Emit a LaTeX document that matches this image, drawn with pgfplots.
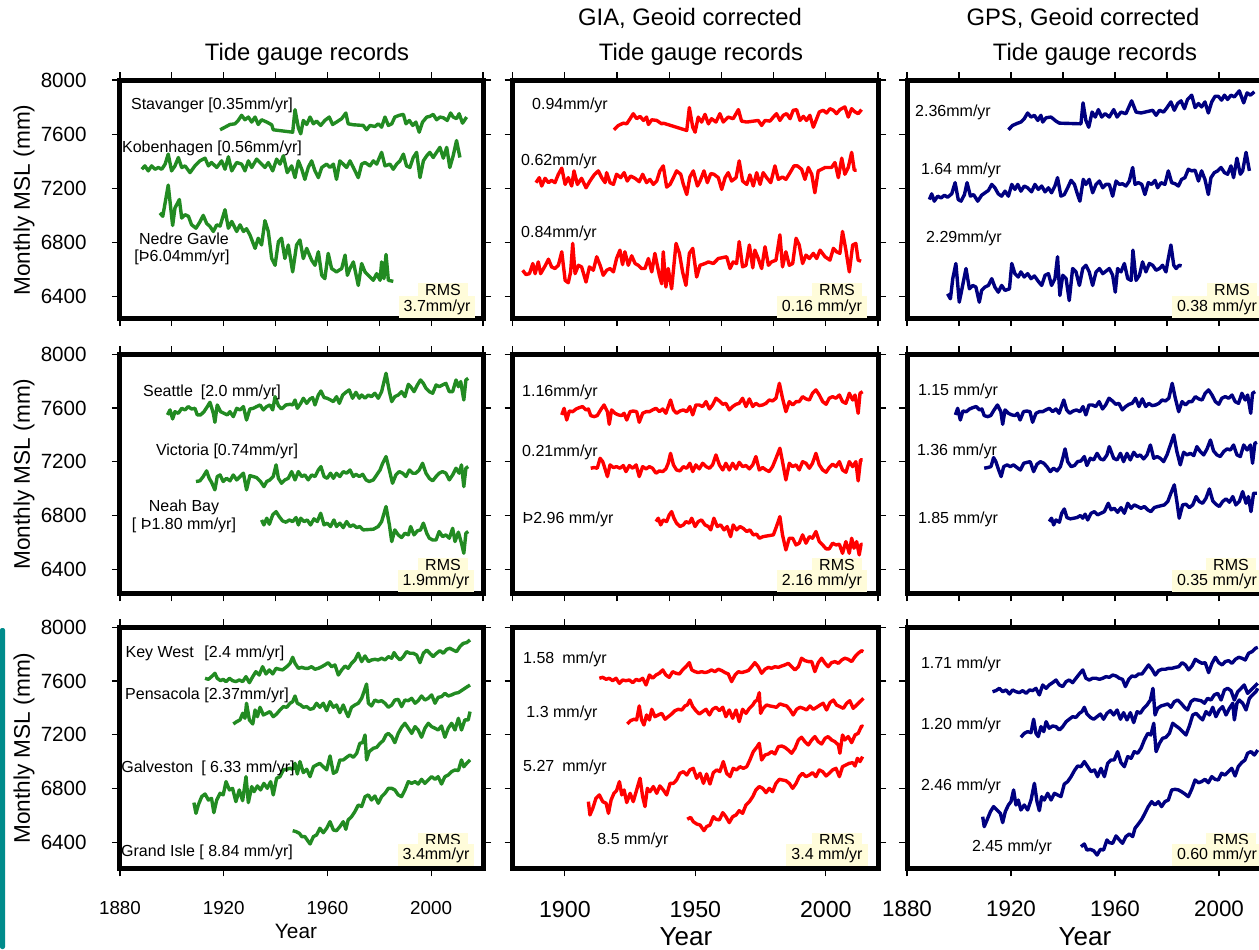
\documentclass[border=0pt]{standalone}
\usepackage{fontspec}
\setmainfont{Liberation Sans}
\usepackage{pgfplots}
\pgfplotsset{compat=1.18}
\definecolor{tgreen}{RGB}{34,139,34}
\definecolor{tred}{RGB}{255,0,0}
\definecolor{tnavy}{RGB}{0,0,128}
\definecolor{cream}{RGB}{255,252,218}
\definecolor{tealbar}{RGB}{0,139,139}
\pgfplotsset{
  panel/.style={
    scale only axis, anchor=north west,
    xmin=1880, xmax=2020, ymax=8000,
    axis line style={line width=0.5pt},
    tick style={black, line width=0.6pt},
    tick align=outside, major tick length=4pt,
    ytick={6400,6800,7200,7600,8000},
    scaled y ticks=false, scaled x ticks=false,
    /pgf/number format/1000 sep={},
    /pgf/number format/assume math mode=true,
    every axis plot/.append style={line width=1.7pt, line join=round},
    after end axis/.code={\draw[line width=2.5pt] (rel axis cs:0,0) rectangle (rel axis cs:1,1);},
  },
  c1/.style={width=181.5pt, yticklabel style={anchor=east, inner sep=0pt, xshift=-12.5pt, font=\fontsize{10.3}{12}\selectfont}},
  c2/.style={width=182.65pt, yticklabels={}},
  c3/.style={width=182pt, yticklabels={}},
  r1/.style={height=119pt, ymin=6240, xtick={1880,1900,...,2020}, xticklabels={}},
  r2/.style={height=119.5pt, ymin=6221, xtick={1880,1900,...,2020}, xticklabels={}},
  r3/.style={height=120.5pt, ymin=6207, xticklabel style={anchor=north, inner sep=0pt, yshift=-12.25pt}},
}
\begin{document}
\begin{tikzpicture}
\useasboundingbox (0pt,0pt) rectangle (629.5pt,-474.5pt);
% ---------------- Row 1 ----------------
\begin{axis}[panel, c1, r1, at={(60pt,-40pt)}]
\addplot[tgreen] coordinates {(1918.6,7632)(1920.5,7651)(1922.4,7671)(1924.3,7676)(1925.6,7701)(1926.9,7739)(1928.2,7706)(1929.5,7726)(1930.8,7689)(1932.1,7726)(1933.3,7671)(1934.6,7706)(1936.6,7689)(1938.5,7669)(1939.1,7632)(1946.6,7614)(1947.5,7781)(1948.8,7646)(1949.7,7602)(1950.7,7701)(1952.0,7671)(1953.3,7726)(1954.6,7676)(1955.8,7696)(1957.4,7664)(1959.0,7701)(1960.7,7726)(1962.0,7671)(1963.5,7689)(1965.5,7714)(1967.1,7756)(1968.0,7676)(1970.0,7669)(1973.8,7664)(1975.1,7632)(1976.4,7664)(1978.3,7656)(1979.6,7676)(1980.9,7651)(1982.2,7726)(1983.5,7664)(1984.8,7676)(1986.0,7726)(1987.7,7739)(1989.3,7746)(1990.3,7676)(1991.6,7701)(1992.9,7664)(1994.1,7689)(1995.4,7614)(1996.7,7689)(1998.3,7726)(1999.5,7731)(2000.8,7746)(2002.1,7706)(2003.4,7726)(2004.7,7721)(2006.2,7701)(2007.5,7756)(2008.5,7726)(2009.8,7714)(2010.8,7751)(2012.1,7681)(2013.7,7726)};
\addplot[tgreen] coordinates {(1888.4,7340)(1889.6,7365)(1890.9,7328)(1892.2,7365)(1893.5,7340)(1894.8,7353)(1896.1,7340)(1897.4,7378)(1898.6,7452)(1899.9,7328)(1901.2,7365)(1902.5,7427)(1903.8,7353)(1905.1,7365)(1907.0,7315)(1908.9,7365)(1910.8,7402)(1912.8,7422)(1914.1,7365)(1915.3,7390)(1917.3,7353)(1919.2,7402)(1920.5,7340)(1921.8,7432)(1923.1,7328)(1925.0,7390)(1926.9,7378)(1928.2,7328)(1929.5,7402)(1930.8,7353)(1932.7,7415)(1934.6,7378)(1935.9,7353)(1937.2,7390)(1938.9,7328)(1940.4,7415)(1941.7,7378)(1943.0,7440)(1944.5,7315)(1946.2,7365)(1947.5,7278)(1948.8,7402)(1950.1,7340)(1951.3,7265)(1952.6,7353)(1953.9,7402)(1955.2,7328)(1956.5,7278)(1957.8,7353)(1959.7,7378)(1961.0,7353)(1962.3,7378)(1963.5,7265)(1964.8,7402)(1966.1,7378)(1967.4,7353)(1968.7,7402)(1970.0,7353)(1971.9,7278)(1973.2,7378)(1974.5,7390)(1976.4,7365)(1977.7,7402)(1979.0,7378)(1980.9,7465)(1982.2,7365)(1984.1,7378)(1985.4,7340)(1986.7,7378)(1988.0,7402)(1989.3,7452)(1990.5,7365)(1991.8,7353)(1993.1,7427)(1994.4,7465)(1995.7,7278)(1997.0,7402)(1998.3,7440)(1999.5,7465)(2000.8,7427)(2002.1,7465)(2003.4,7502)(2004.7,7422)(2006.0,7502)(2007.2,7353)(2008.5,7440)(2009.8,7552)(2011.1,7427)};
\addplot[tgreen] coordinates {(1895.4,7017)(1896.5,6992)(1898.6,7223)(1900.3,6924)(1901.2,7054)(1902.9,7116)(1903.8,6979)(1905.1,7004)(1906.4,6992)(1907.6,6930)(1909.3,6904)(1910.8,6950)(1912.1,6999)(1913.4,6940)(1914.7,6917)(1916.0,6880)(1917.3,6929)(1918.6,6920)(1920.5,7041)(1921.8,6904)(1923.1,6954)(1925.0,6880)(1926.3,6929)(1927.6,6880)(1928.8,6900)(1930.1,6855)(1932.1,6755)(1933.3,6830)(1934.6,6780)(1935.9,6960)(1937.2,6880)(1938.5,6680)(1939.8,6630)(1941.1,6805)(1942.3,6830)(1943.6,6680)(1944.9,6780)(1946.6,6581)(1948.1,6780)(1949.4,6817)(1950.7,6680)(1952.0,6755)(1953.9,6668)(1955.2,6630)(1956.5,6730)(1957.8,6556)(1959.0,6531)(1960.3,6718)(1961.6,6606)(1963.5,6581)(1965.5,6606)(1966.8,6705)(1967.7,6556)(1968.7,6606)(1970.0,6655)(1971.9,6481)(1973.2,6643)(1974.5,6581)(1976.4,6543)(1977.7,6519)(1979.0,6568)(1980.3,6519)(1980.9,6655)(1981.8,6531)(1982.6,6710)(1983.5,6519)(1985.4,6511)};
\end{axis}
\begin{axis}[panel, c2, r1, at={(256.35pt,-40pt)}]
\addplot[tred] coordinates {(1918.8,7632)(1920.5,7664)(1922.4,7681)(1923.7,7676)(1925.0,7714)(1926.2,7751)(1927.5,7714)(1928.8,7731)(1930.1,7701)(1931.3,7726)(1932.0,7671)(1933.3,7706)(1935.2,7701)(1937.1,7676)(1937.7,7681)(1946.7,7627)(1947.7,7796)(1949.0,7651)(1949.9,7614)(1951.1,7726)(1952.4,7689)(1953.7,7746)(1955.0,7676)(1956.2,7714)(1957.9,7689)(1959.4,7751)(1960.7,7689)(1962.6,7726)(1964.5,7714)(1966.5,7781)(1967.7,7696)(1969.7,7689)(1974.1,7701)(1975.4,7664)(1976.7,7701)(1978.6,7696)(1979.9,7726)(1981.1,7751)(1982.4,7701)(1983.7,7739)(1985.0,7751)(1986.3,7714)(1987.5,7776)(1988.8,7781)(1990.1,7701)(1991.4,7731)(1992.6,7701)(1993.9,7739)(1995.2,7651)(1996.5,7714)(1997.5,7764)(1999.0,7776)(2000.3,7756)(2001.6,7788)(2002.9,7776)(2004.1,7751)(2005.4,7781)(2007.3,7801)(2008.6,7726)(2009.9,7788)(2011.2,7764)(2012.4,7751)(2013.7,7781)};
\addplot[tred] coordinates {(1888.9,7241)(1890.2,7278)(1891.1,7216)(1892.4,7273)(1893.7,7241)(1894.9,7258)(1896.2,7241)(1897.5,7303)(1898.8,7348)(1900.1,7228)(1901.3,7278)(1902.6,7216)(1903.5,7328)(1904.8,7228)(1906.4,7273)(1908.1,7203)(1909.6,7253)(1911.2,7298)(1912.8,7328)(1914.1,7278)(1915.4,7241)(1916.0,7315)(1917.3,7241)(1918.6,7228)(1919.8,7303)(1921.4,7278)(1922.7,7315)(1923.9,7253)(1925.2,7290)(1926.9,7273)(1928.5,7248)(1929.8,7303)(1931.3,7241)(1932.6,7265)(1933.9,7228)(1935.2,7253)(1936.4,7328)(1937.7,7365)(1939.0,7208)(1940.3,7228)(1941.6,7278)(1942.8,7328)(1944.4,7303)(1945.4,7228)(1946.7,7153)(1947.9,7283)(1949.2,7328)(1950.8,7216)(1951.8,7253)(1953.3,7328)(1954.6,7241)(1955.9,7308)(1957.1,7303)(1958.8,7278)(1960.1,7191)(1961.4,7278)(1962.6,7315)(1963.9,7253)(1965.6,7278)(1966.8,7402)(1968.1,7253)(1969.7,7228)(1970.9,7298)(1972.2,7216)(1973.5,7315)(1974.8,7228)(1976.0,7315)(1977.3,7278)(1978.9,7241)(1980.5,7365)(1981.8,7265)(1983.4,7283)(1984.7,7265)(1986.3,7315)(1987.8,7365)(1989.1,7365)(1990.7,7340)(1992.0,7265)(1993.3,7353)(1994.6,7303)(1995.8,7166)(1997.1,7328)(1998.4,7340)(1999.7,7353)(2000.9,7353)(2002.2,7353)(2003.5,7390)(2004.8,7278)(2006.1,7422)(2007.3,7303)(2008.6,7353)(2009.9,7465)(2010.9,7333)(2011.8,7333)};
\addplot[tred] coordinates {(1883.8,6593)(1885.1,6561)(1886.4,6568)(1887.7,6643)(1888.6,6568)(1889.8,6655)(1890.7,6568)(1892.4,6625)(1893.7,6675)(1894.9,6618)(1896.2,6606)(1897.5,6630)(1898.8,6730)(1900.1,6518)(1901.3,6501)(1902.2,6581)(1903.0,6792)(1903.9,6568)(1905.2,6630)(1906.4,6618)(1908.1,6506)(1909.4,6618)(1910.9,6593)(1912.2,6693)(1913.5,6630)(1914.7,6556)(1916.0,6593)(1917.3,6606)(1918.6,6581)(1919.8,6680)(1921.1,6742)(1922.1,6635)(1923.0,6730)(1924.3,6630)(1925.6,6700)(1926.9,6643)(1928.1,6630)(1929.4,6606)(1930.7,6606)(1932.0,6680)(1933.3,6581)(1934.5,6718)(1936.2,6556)(1937.1,6493)(1937.7,6730)(1938.7,6469)(1939.6,6606)(1940.9,6456)(1942.6,6792)(1943.9,6718)(1945.1,6581)(1946.4,6481)(1947.7,6718)(1949.0,6755)(1950.5,6543)(1951.8,6630)(1953.7,6643)(1955.0,6655)(1956.9,6643)(1958.8,6680)(1962.0,6693)(1963.3,6606)(1964.5,6655)(1965.8,6643)(1966.8,6805)(1968.1,6618)(1969.4,6630)(1970.7,6780)(1972.0,6611)(1972.8,6742)(1974.1,6680)(1975.4,6606)(1976.7,6767)(1978.0,6630)(1979.2,6655)(1980.9,6668)(1982.4,6855)(1983.4,6618)(1984.7,6730)(1986.0,6630)(1987.3,6643)(1988.6,6830)(1989.8,6780)(1991.1,6643)(1992.4,6705)(1993.7,6680)(1995.2,6718)(1996.5,6680)(1997.8,6742)(1999.7,6693)(2001.6,6668)(2002.9,6755)(2004.1,6730)(2005.4,6718)(2006.4,6880)(2007.7,6742)(2009.0,6581)(2010.3,6780)(2011.5,6792)(2012.4,6668)(2013.5,6660)};
\end{axis}
\begin{axis}[panel, c3, r1, at={(453.5pt,-40pt)}]
\addplot[tnavy] coordinates {(1919.0,7632)(1920.6,7664)(1922.6,7681)(1923.8,7689)(1925.1,7714)(1926.4,7756)(1927.7,7726)(1929.0,7739)(1930.3,7701)(1931.5,7739)(1932.2,7689)(1933.5,7721)(1935.4,7726)(1937.3,7696)(1938.6,7681)(1946.9,7676)(1947.7,7831)(1948.8,7701)(1949.9,7651)(1951.2,7763)(1952.4,7726)(1953.6,7781)(1954.9,7726)(1956.2,7751)(1957.8,7726)(1959.5,7781)(1960.8,7726)(1962.3,7763)(1964.2,7751)(1966.4,7846)(1968.1,7763)(1970.0,7756)(1974.5,7776)(1975.8,7739)(1977.1,7776)(1978.7,7763)(1980.0,7796)(1981.5,7838)(1982.8,7776)(1984.1,7826)(1985.4,7846)(1986.7,7788)(1987.9,7856)(1989.5,7888)(1990.8,7796)(1992.1,7826)(1993.3,7801)(1994.6,7838)(1995.9,7756)(1997.2,7838)(1998.5,7880)(1999.7,7880)(2001.0,7851)(2002.1,7888)(2003.3,7856)(2004.6,7888)(2005.9,7875)(2007.8,7920)(2009.5,7831)(2010.8,7905)(2012.1,7888)(2013.6,7913)};
\addplot[tnavy] coordinates {(1888.6,7116)(1889.5,7158)(1890.5,7104)(1891.8,7141)(1893.1,7128)(1894.4,7148)(1895.6,7133)(1897.2,7158)(1898.5,7241)(1899.7,7116)(1900.8,7104)(1902.1,7153)(1903.1,7241)(1904.4,7141)(1905.6,7153)(1907.2,7104)(1908.7,7148)(1910.0,7166)(1911.3,7183)(1912.6,7228)(1913.8,7203)(1915.1,7158)(1916.4,7141)(1917.7,7178)(1919.0,7141)(1920.3,7228)(1921.5,7191)(1922.6,7228)(1923.8,7178)(1925.1,7216)(1926.4,7203)(1927.9,7173)(1929.2,7228)(1930.5,7191)(1931.8,7216)(1933.1,7173)(1934.4,7203)(1935.6,7166)(1936.9,7216)(1937.9,7278)(1939.2,7141)(1940.5,7153)(1941.8,7203)(1943.1,7258)(1944.4,7228)(1945.6,7153)(1946.5,7104)(1947.8,7265)(1948.8,7228)(1950.1,7265)(1951.4,7166)(1952.7,7228)(1954.0,7253)(1955.3,7203)(1956.5,7228)(1957.8,7228)(1959.1,7141)(1960.4,7253)(1961.7,7228)(1962.9,7233)(1964.2,7216)(1965.5,7253)(1966.8,7353)(1967.7,7228)(1969.0,7241)(1970.3,7228)(1971.5,7153)(1972.8,7241)(1974.1,7228)(1975.4,7258)(1976.4,7203)(1977.7,7241)(1979.2,7228)(1980.5,7328)(1981.8,7241)(1983.1,7233)(1984.4,7216)(1985.6,7265)(1986.9,7278)(1988.2,7340)(1989.5,7328)(1990.8,7333)(1992.1,7253)(1993.3,7328)(1994.6,7265)(1995.9,7153)(1996.9,7278)(1998.2,7315)(1999.5,7328)(2000.8,7353)(2002.1,7315)(2003.3,7303)(2004.6,7365)(2005.6,7278)(2006.9,7422)(2008.2,7303)(2009.1,7328)(2010.4,7465)(2011.7,7328)};
\addplot[tnavy] coordinates {(1895.6,6419)(1896.7,6382)(1897.6,6531)(1898.8,6643)(1900.1,6357)(1901.4,6481)(1902.7,6606)(1904.0,6456)(1905.3,6481)(1906.5,6469)(1907.8,6357)(1908.7,6444)(1910.0,6469)(1911.3,6481)(1912.6,6531)(1913.8,6469)(1915.1,6431)(1916.4,6481)(1917.7,6444)(1919.4,6456)(1920.3,6643)(1921.5,6568)(1922.8,6543)(1923.8,6581)(1925.1,6543)(1926.4,6568)(1927.7,6531)(1929.0,6551)(1930.5,6511)(1931.8,6481)(1933.1,6556)(1934.4,6568)(1935.6,6481)(1936.9,6531)(1937.9,6693)(1938.8,6406)(1939.9,6556)(1941.2,6531)(1942.4,6369)(1943.7,6606)(1945.0,6581)(1946.3,6481)(1947.6,6606)(1948.8,6630)(1950.1,6581)(1951.4,6481)(1952.7,6581)(1954.0,6606)(1955.3,6568)(1956.5,6586)(1957.8,6606)(1959.1,6556)(1960.1,6431)(1961.0,6606)(1962.3,6581)(1963.6,6643)(1964.9,6531)(1966.2,6518)(1966.9,6742)(1968.1,6518)(1969.4,6556)(1970.6,6655)(1971.9,6581)(1973.2,6643)(1974.5,6630)(1975.8,6593)(1977.1,6606)(1978.3,6630)(1979.6,6581)(1980.5,6680)(1981.5,6780)(1982.6,6630)(1983.5,6606)(1984.7,6630)(1985.6,6625)};
\end{axis}
% ---------------- Row 2 ----------------
\begin{axis}[panel, c1, r2, at={(60pt,-177.15pt)}]
\addplot[tgreen] coordinates {(1898.3,7549)(1899.3,7586)(1900.3,7519)(1901.2,7573)(1902.5,7561)(1903.8,7598)(1905.1,7586)(1906.3,7611)(1907.6,7593)(1908.9,7598)(1909.8,7549)(1911.1,7549)(1912.4,7573)(1913.7,7611)(1914.7,7643)(1916.0,7561)(1916.6,7494)(1917.5,7623)(1918.8,7573)(1920.1,7561)(1921.4,7549)(1922.4,7573)(1923.7,7536)(1925.0,7598)(1926.3,7586)(1927.6,7611)(1928.8,7511)(1930.1,7593)(1931.4,7598)(1932.7,7611)(1934.0,7623)(1935.3,7586)(1936.6,7611)(1937.8,7623)(1938.9,7586)(1939.8,7685)(1941.1,7618)(1942.3,7593)(1944.0,7623)(1945.6,7628)(1946.6,7623)(1947.5,7660)(1948.4,7598)(1949.7,7635)(1950.7,7673)(1952.0,7635)(1953.3,7668)(1954.3,7678)(1955.2,7623)(1956.5,7697)(1957.5,7727)(1958.7,7678)(1959.9,7673)(1961.2,7660)(1962.3,7648)(1963.5,7685)(1964.6,7635)(1965.9,7697)(1967.1,7717)(1968.4,7735)(1969.7,7673)(1971.0,7717)(1972.3,7673)(1973.2,7697)(1974.5,7673)(1975.8,7697)(1977.0,7685)(1978.3,7710)(1979.6,7673)(1980.9,7722)(1982.6,7859)(1983.9,7722)(1984.8,7648)(1986.0,7685)(1987.3,7697)(1988.6,7722)(1989.9,7685)(1991.2,7777)(1992.1,7759)(1993.4,7722)(1994.7,7772)(1995.9,7809)(1997.0,7784)(1998.0,7747)(1999.3,7722)(2000.6,7710)(2001.9,7772)(2003.1,7759)(2004.4,7772)(2005.7,7784)(2007.0,7722)(2008.3,7722)(2009.6,7809)(2010.5,7759)(2011.4,7797)(2012.6,7660)(2013.4,7809)(2014.3,7821)};
\addplot[tgreen] coordinates {(1909.3,7053)(1910.8,7058)(1912.1,7090)(1913.4,7132)(1914.4,7077)(1915.3,7048)(1916.6,6991)(1917.5,7090)(1918.6,7102)(1919.8,7053)(1921.1,7077)(1922.4,7058)(1923.7,7102)(1925.0,7065)(1926.3,7090)(1927.6,7115)(1928.8,6991)(1930.1,7097)(1931.4,7090)(1932.7,7082)(1934.2,7053)(1935.5,7015)(1936.6,7053)(1937.8,7065)(1939.1,7090)(1940.2,7177)(1941.1,7077)(1942.3,7040)(1943.6,7065)(1944.9,7077)(1946.2,7127)(1947.5,7065)(1948.8,7127)(1950.1,7090)(1951.3,7102)(1952.6,7065)(1953.9,7102)(1955.2,7090)(1956.5,7139)(1957.5,7164)(1958.7,7090)(1959.9,7077)(1961.2,7115)(1962.3,7077)(1963.5,7115)(1964.8,7090)(1966.1,7127)(1967.4,7115)(1968.7,7139)(1970.0,7090)(1971.0,7107)(1972.3,7090)(1973.6,7107)(1974.9,7065)(1976.1,7053)(1977.7,7065)(1979.0,7102)(1980.3,7139)(1981.3,7189)(1982.6,7239)(1983.9,7139)(1985.1,7040)(1986.4,7102)(1987.7,7127)(1989.0,7115)(1990.3,7090)(1991.6,7139)(1992.9,7115)(1994.1,7115)(1995.4,7139)(1996.7,7189)(1998.0,7115)(1999.3,7077)(2000.6,7058)(2001.9,7090)(2003.1,7115)(2004.4,7127)(2005.7,7115)(2007.0,7065)(2008.3,7102)(2009.6,7152)(2010.8,7115)(2011.7,7177)(2012.6,7015)(2013.4,7152)(2014.3,7164)};
\addplot[tgreen] coordinates {(1934.6,6767)(1935.5,6730)(1936.6,6780)(1937.6,6735)(1938.9,6805)(1940.2,6829)(1941.4,6792)(1942.7,6760)(1944.0,6750)(1945.3,6767)(1946.6,6755)(1947.9,6785)(1948.8,6730)(1949.7,6780)(1951.0,6755)(1952.2,6767)(1953.5,6730)(1954.8,6775)(1956.1,6755)(1957.4,6817)(1958.7,6730)(1959.9,6743)(1961.2,6718)(1962.5,6767)(1963.5,6718)(1964.8,6743)(1966.1,6710)(1967.4,6755)(1968.7,6718)(1970.0,6730)(1971.3,6710)(1972.5,6718)(1973.8,6693)(1977.7,6698)(1979.6,6718)(1980.9,6755)(1982.6,6867)(1983.9,6730)(1984.8,6606)(1986.0,6693)(1987.3,6656)(1988.6,6636)(1989.9,6668)(1991.2,6656)(1992.1,6718)(1993.4,6656)(1994.7,6686)(1995.9,6693)(1997.0,6743)(1998.3,6668)(1999.3,6631)(2000.6,6618)(2001.9,6618)(2003.1,6681)(2004.4,6643)(2005.7,6656)(2007.0,6631)(2008.3,6705)(2009.2,6606)(2010.5,6676)(2011.7,6594)(2012.6,6519)(2013.4,6668)(2014.3,6681)};
\end{axis}
\begin{axis}[panel, c2, r2, at={(256.35pt,-177.15pt)}]
\addplot[tred] coordinates {(1898.8,7549)(1899.7,7598)(1900.7,7511)(1901.7,7578)(1903.0,7573)(1904.3,7593)(1905.5,7603)(1906.8,7611)(1908.1,7586)(1909.0,7593)(1909.9,7544)(1911.2,7536)(1912.4,7544)(1913.7,7586)(1915.0,7623)(1916.3,7573)(1917.0,7479)(1917.9,7586)(1919.2,7561)(1920.5,7549)(1921.8,7544)(1922.7,7561)(1923.7,7511)(1925.0,7573)(1926.2,7578)(1927.5,7573)(1928.5,7494)(1929.8,7561)(1931.1,7573)(1932.4,7573)(1933.6,7586)(1934.9,7598)(1936.2,7573)(1937.5,7593)(1938.7,7561)(1939.6,7611)(1940.5,7660)(1941.6,7586)(1942.8,7561)(1944.1,7578)(1945.4,7586)(1946.7,7573)(1947.9,7611)(1949.0,7549)(1950.2,7623)(1951.5,7623)(1952.8,7611)(1954.1,7648)(1955.4,7593)(1956.6,7623)(1957.9,7673)(1959.2,7653)(1960.5,7628)(1961.7,7635)(1963.0,7586)(1964.3,7611)(1965.6,7628)(1966.8,7635)(1968.1,7673)(1969.4,7611)(1970.7,7668)(1972.0,7611)(1973.2,7635)(1974.5,7618)(1975.8,7623)(1977.1,7635)(1978.3,7660)(1979.6,7653)(1980.9,7673)(1982.2,7784)(1983.4,7673)(1984.7,7573)(1986.0,7648)(1987.3,7623)(1988.6,7648)(1989.8,7648)(1991.1,7685)(1992.4,7668)(1993.7,7660)(1994.9,7710)(1996.2,7735)(1997.5,7697)(1998.8,7648)(2000.1,7628)(2001.3,7673)(2002.6,7685)(2003.9,7673)(2005.2,7697)(2006.4,7648)(2007.7,7635)(2009.0,7710)(2010.3,7660)(2011.2,7697)(2012.4,7561)(2013.1,7710)(2014.1,7722)};
\addplot[tred] coordinates {(1909.9,7152)(1911.2,7157)(1912.4,7152)(1913.5,7226)(1914.5,7201)(1915.4,7147)(1916.3,7090)(1917.3,7177)(1918.6,7157)(1919.8,7164)(1921.1,7152)(1922.4,7172)(1923.4,7127)(1924.7,7172)(1926.0,7152)(1927.3,7177)(1928.5,7090)(1929.8,7164)(1931.1,7147)(1932.4,7164)(1933.6,7152)(1934.9,7115)(1936.2,7132)(1937.5,7127)(1938.7,7147)(1939.6,7189)(1940.5,7263)(1941.6,7177)(1942.8,7139)(1944.1,7132)(1945.4,7164)(1946.7,7152)(1947.9,7189)(1949.0,7127)(1950.2,7177)(1951.5,7147)(1952.8,7189)(1954.1,7164)(1955.4,7152)(1956.6,7177)(1957.9,7251)(1959.2,7177)(1960.5,7139)(1961.7,7189)(1963.0,7139)(1964.3,7189)(1965.6,7147)(1966.8,7196)(1968.1,7164)(1969.4,7172)(1970.7,7147)(1972.0,7177)(1973.2,7239)(1974.5,7139)(1975.8,7157)(1977.1,7139)(1978.3,7127)(1979.6,7164)(1980.9,7226)(1982.4,7301)(1983.4,7201)(1984.7,7065)(1986.0,7189)(1987.3,7164)(1988.6,7177)(1989.8,7139)(1991.1,7201)(1992.4,7189)(1993.7,7152)(1994.9,7189)(1996.2,7263)(1997.5,7177)(1998.8,7139)(2000.1,7122)(2001.3,7157)(2002.6,7182)(2003.9,7164)(2005.2,7201)(2006.4,7139)(2007.7,7122)(2009.0,7201)(2010.3,7164)(2011.5,7201)(2012.4,7058)(2013.3,7214)(2014.1,7214)};
\addplot[tred] coordinates {(1934.9,6755)(1935.8,6780)(1936.7,6730)(1937.7,6767)(1939.0,6755)(1940.0,6805)(1940.9,6829)(1941.8,6780)(1942.8,6743)(1944.1,6718)(1945.4,6730)(1946.4,6755)(1947.7,6743)(1948.6,6780)(1949.9,6718)(1951.1,6755)(1952.4,6767)(1953.7,6730)(1955.0,6718)(1955.9,6693)(1957.1,6780)(1958.4,6718)(1959.7,6730)(1961.0,6693)(1962.2,6718)(1963.5,6643)(1964.5,6730)(1965.8,6693)(1967.1,6718)(1968.3,6705)(1969.7,6681)(1970.9,6693)(1972.2,6656)(1973.5,6661)(1974.5,6631)(1976.0,6643)(1979.9,6656)(1981.1,6718)(1982.4,6792)(1983.4,6656)(1984.7,6544)(1986.0,6631)(1987.3,6631)(1988.6,6581)(1989.8,6594)(1991.1,6656)(1992.4,6594)(1993.7,6643)(1994.9,6631)(1996.2,6681)(1997.5,6606)(1998.8,6581)(2000.1,6552)(2001.3,6552)(2002.6,6594)(2003.9,6581)(2005.2,6586)(2006.4,6519)(2007.7,6606)(2009.0,6519)(2009.9,6631)(2010.8,6557)(2011.8,6606)(2012.8,6507)(2013.5,6586)(2014.1,6586)};
\end{axis}
\begin{axis}[panel, c3, r2, at={(453.5pt,-177.15pt)}]
\addplot[tnavy] coordinates {(1898.6,7549)(1899.5,7598)(1900.5,7511)(1901.5,7578)(1902.8,7573)(1904.1,7593)(1905.3,7603)(1906.6,7611)(1907.9,7586)(1908.8,7593)(1909.7,7544)(1911.0,7536)(1912.2,7544)(1913.5,7586)(1914.8,7623)(1916.1,7573)(1916.8,7479)(1917.7,7586)(1919.0,7561)(1920.3,7549)(1921.6,7544)(1922.5,7561)(1923.5,7511)(1924.8,7573)(1926.0,7578)(1927.3,7573)(1928.3,7494)(1929.6,7561)(1930.9,7573)(1932.2,7573)(1933.4,7586)(1934.7,7598)(1936.0,7573)(1937.3,7593)(1938.5,7561)(1939.4,7611)(1940.3,7660)(1941.4,7586)(1942.6,7561)(1943.9,7578)(1945.2,7586)(1946.5,7573)(1947.7,7611)(1948.8,7549)(1950.0,7623)(1951.3,7623)(1952.6,7611)(1953.9,7648)(1955.2,7593)(1956.4,7623)(1957.7,7673)(1959.0,7653)(1960.3,7628)(1961.5,7635)(1962.8,7586)(1964.1,7611)(1965.4,7628)(1966.6,7635)(1967.9,7673)(1969.2,7611)(1970.5,7668)(1971.8,7611)(1973.0,7635)(1974.3,7618)(1975.6,7623)(1976.9,7635)(1978.1,7660)(1979.4,7653)(1980.7,7673)(1982.0,7784)(1983.2,7673)(1984.5,7573)(1985.8,7648)(1987.1,7623)(1988.4,7648)(1989.6,7648)(1990.9,7685)(1992.2,7668)(1993.5,7660)(1994.7,7710)(1996.0,7735)(1997.3,7697)(1998.6,7648)(1999.9,7628)(2001.1,7673)(2002.4,7685)(2003.7,7673)(2005.0,7697)(2006.2,7648)(2007.5,7635)(2008.8,7710)(2010.1,7660)(2011.0,7697)(2012.2,7561)(2012.9,7710)(2013.9,7722)};
\addplot[tnavy] coordinates {(1909.7,7152)(1911.0,7157)(1912.3,7164)(1913.3,7231)(1914.2,7201)(1915.1,7147)(1916.2,7090)(1917.2,7164)(1918.5,7177)(1919.7,7164)(1921.0,7177)(1922.3,7157)(1923.6,7139)(1924.9,7189)(1926.2,7196)(1927.4,7201)(1928.7,7127)(1930.0,7182)(1931.3,7201)(1932.6,7189)(1933.8,7164)(1935.1,7127)(1936.4,7152)(1937.7,7132)(1939.0,7164)(1939.9,7226)(1940.8,7296)(1941.8,7201)(1943.1,7164)(1944.4,7172)(1945.6,7201)(1946.9,7206)(1948.2,7239)(1949.2,7172)(1950.5,7226)(1951.8,7214)(1953.1,7263)(1954.4,7221)(1955.6,7214)(1956.9,7251)(1957.8,7313)(1959.5,7226)(1960.8,7214)(1962.1,7263)(1963.3,7201)(1964.6,7263)(1965.9,7214)(1967.2,7271)(1968.5,7239)(1969.7,7251)(1971.0,7221)(1972.3,7251)(1973.6,7325)(1974.9,7226)(1976.2,7239)(1977.4,7226)(1978.7,7201)(1980.0,7251)(1981.3,7325)(1982.6,7400)(1983.8,7276)(1985.1,7177)(1986.4,7271)(1987.7,7251)(1989.0,7263)(1990.3,7246)(1991.5,7313)(1992.8,7276)(1994.1,7251)(1995.4,7296)(1996.7,7362)(1997.9,7281)(1999.2,7251)(2000.5,7239)(2001.8,7276)(2003.1,7296)(2004.4,7288)(2005.6,7325)(2006.9,7251)(2008.2,7239)(2009.5,7325)(2010.8,7288)(2012.1,7325)(2012.9,7189)(2013.8,7338)(2014.6,7345)};
\addplot[tnavy] coordinates {(1934.7,6755)(1935.6,6780)(1936.4,6730)(1937.3,6767)(1938.6,6750)(1939.5,6817)(1940.5,6849)(1941.5,6785)(1942.8,6775)(1944.1,6780)(1945.4,6785)(1946.7,6800)(1947.6,6780)(1948.5,6810)(1949.5,6767)(1950.8,6817)(1952.1,6829)(1953.3,6805)(1954.6,6817)(1955.9,6829)(1957.4,6891)(1958.5,6842)(1959.7,6854)(1961.0,6824)(1962.3,6859)(1963.6,6817)(1964.9,6891)(1966.2,6854)(1967.4,6879)(1968.7,6867)(1970.0,6854)(1971.3,6867)(1972.6,6842)(1973.8,6829)(1975.1,6859)(1976.4,6867)(1979.0,6879)(1980.3,6904)(1981.5,6966)(1982.8,7028)(1983.8,6904)(1984.7,6780)(1986.0,6879)(1987.3,6884)(1988.6,6859)(1989.9,6879)(1991.2,6941)(1992.4,6904)(1993.7,6891)(1995.0,6929)(1996.3,6998)(1997.6,6909)(1998.8,6884)(2000.1,6867)(2001.4,6904)(2002.7,6924)(2004.0,6899)(2005.3,6941)(2006.5,6879)(2007.8,6904)(2009.1,6978)(2010.4,6891)(2011.3,6941)(2012.3,6829)(2013.3,6966)(2014.6,6966)};
\end{axis}
% ---------------- Row 3 ----------------
\begin{axis}[panel, c1, r3, at={(60pt,-313.65pt)}, xtick={1880,1920,1960,2000}, xticklabel style={font=\fontsize{9.4}{11}\selectfont}]
\addplot[tgreen] coordinates {(1912.8,7621)(1914.1,7613)(1915.3,7633)(1916.6,7658)(1917.5,7621)(1918.8,7603)(1919.8,7613)(1920.9,7596)(1922.2,7621)(1923.4,7603)(1924.7,7596)(1926.0,7608)(1927.3,7596)(1928.6,7633)(1929.9,7588)(1931.2,7633)(1932.4,7670)(1933.7,7645)(1935.0,7707)(1936.3,7653)(1937.6,7683)(1938.9,7653)(1940.2,7695)(1941.4,7688)(1942.7,7683)(1944.3,7707)(1945.6,7732)(1946.6,7777)(1947.5,7732)(1948.8,7695)(1950.1,7702)(1951.3,7695)(1952.6,7695)(1953.9,7707)(1955.2,7688)(1956.5,7695)(1957.8,7707)(1959.0,7720)(1960.3,7737)(1961.6,7707)(1962.9,7720)(1964.2,7645)(1965.5,7683)(1966.8,7712)(1968.0,7695)(1969.3,7732)(1970.6,7757)(1971.9,7807)(1973.2,7745)(1974.5,7787)(1975.8,7745)(1977.0,7757)(1978.3,7762)(1979.6,7757)(1980.9,7770)(1982.2,7757)(1983.5,7782)(1984.8,7770)(1985.7,7812)(1986.7,7782)(1988.0,7757)(1989.3,7782)(1990.5,7819)(1991.8,7807)(1993.1,7807)(1994.4,7794)(1995.7,7737)(1997.0,7807)(1998.3,7831)(1999.5,7807)(2000.8,7782)(2002.1,7807)(2003.4,7826)(2004.7,7807)(2006.0,7836)(2007.2,7844)(2008.5,7831)(2009.8,7819)(2011.1,7856)(2012.4,7881)(2013.7,7886)(2015.0,7906)};
\addplot[tgreen] coordinates {(1923.7,7281)(1925.0,7298)(1926.3,7311)(1927.3,7360)(1928.2,7323)(1928.8,7435)(1929.9,7311)(1931.2,7281)(1932.1,7385)(1933.0,7335)(1934.0,7405)(1935.3,7348)(1936.6,7360)(1937.8,7373)(1939.1,7335)(1940.4,7355)(1941.7,7385)(1943.0,7410)(1944.3,7405)(1945.6,7435)(1946.6,7447)(1947.5,7489)(1948.4,7435)(1949.7,7422)(1950.7,7405)(1952.0,7410)(1953.3,7390)(1954.6,7397)(1955.8,7435)(1957.1,7405)(1958.4,7435)(1959.7,7380)(1961.0,7447)(1962.3,7405)(1963.5,7422)(1964.8,7365)(1966.1,7422)(1967.1,7373)(1968.0,7335)(1969.3,7405)(1970.6,7422)(1971.9,7435)(1973.2,7472)(1974.1,7521)(1975.1,7578)(1975.8,7435)(1977.0,7415)(1978.3,7459)(1979.6,7447)(1980.9,7454)(1982.2,7435)(1983.5,7405)(1984.8,7422)(1986.0,7459)(1987.3,7464)(1988.6,7410)(1989.9,7459)(1991.2,7454)(1992.5,7472)(1993.8,7435)(1995.0,7454)(1996.3,7489)(1997.6,7459)(1998.9,7472)(2000.2,7497)(2001.5,7435)(2002.7,7479)(2004.0,7484)(2005.3,7509)(2006.6,7489)(2007.9,7497)(2009.2,7509)(2010.5,7514)(2011.7,7529)(2013.0,7546)(2015.0,7571)};
\addplot[tgreen] coordinates {(1908.5,6696)(1909.3,6616)(1910.2,6678)(1911.5,6740)(1912.8,6760)(1914.1,6715)(1915.3,6728)(1916.2,6621)(1917.3,6715)(1918.6,6765)(1919.8,6753)(1920.9,6852)(1922.2,6790)(1923.4,6802)(1924.7,6703)(1926.0,6790)(1927.3,6710)(1928.6,6889)(1929.5,6696)(1930.8,6815)(1931.7,6777)(1933.0,6820)(1934.2,6790)(1935.5,6839)(1936.8,6802)(1938.1,6852)(1939.1,6753)(1940.4,6877)(1941.7,6889)(1943.0,6939)(1944.3,6944)(1945.6,6951)(1946.6,6944)(1947.5,6988)(1948.4,6909)(1949.4,7001)(1950.7,6919)(1952.0,6944)(1953.3,6889)(1954.6,6963)(1955.8,6976)(1957.1,6988)(1958.4,6963)(1959.7,6939)(1961.0,7043)(1962.3,6914)(1963.5,6926)(1964.8,7013)(1966.1,7013)(1967.4,7033)(1968.7,7050)(1970.0,7033)(1971.3,7063)(1972.5,7137)(1973.6,7142)(1974.5,7199)(1975.1,7013)(1976.1,7075)(1977.7,7100)(1979.0,7107)(1980.3,7137)(1981.5,7157)(1982.6,7199)(1983.5,7211)(1984.8,7187)(1986.0,7142)(1987.3,7211)(1988.6,7256)(1989.9,7286)(1991.2,7249)(1992.5,7211)(1993.8,7261)(1995.0,7236)(1996.3,7182)(1997.6,7249)(1998.9,7286)(2000.2,7261)(2001.5,7249)(2002.7,7236)(2004.0,7266)(2005.3,7182)(2006.6,7249)(2007.9,7286)(2009.2,7236)(2010.5,7323)(2011.7,7236)(2013.0,7311)(2014.3,7311)(2015.0,7373)};
\addplot[tgreen] coordinates {(1946.6,6487)(1947.9,6480)(1949.2,6467)(1950.1,6443)(1951.3,6443)(1952.2,6418)(1953.3,6388)(1954.6,6443)(1955.8,6455)(1957.1,6505)(1958.4,6472)(1959.7,6505)(1961.0,6554)(1962.3,6492)(1963.5,6487)(1964.8,6517)(1966.1,6554)(1967.1,6497)(1968.0,6567)(1969.3,6591)(1970.6,6629)(1971.9,6678)(1973.2,6666)(1974.5,6740)(1975.8,6753)(1977.0,6715)(1978.3,6745)(1979.6,6691)(1980.9,6740)(1982.2,6765)(1983.5,6802)(1984.8,6802)(1986.0,6790)(1987.3,6753)(1988.6,6740)(1989.9,6790)(1991.2,6852)(1992.5,6839)(1993.8,6852)(1995.0,6834)(1996.3,6869)(1997.6,6839)(1998.9,6864)(2000.2,6889)(2001.5,6869)(2002.7,6889)(2004.0,6834)(2005.3,6889)(2006.6,6901)(2007.9,6926)(2009.2,6939)(2010.5,6934)(2011.7,7013)(2012.6,6963)(2013.7,6988)(2015.0,7013)};
\end{axis}
\begin{axis}[panel, c2, r3, at={(256.35pt,-313.65pt)}, xtick={1900,1950,2000}, xticklabel style={font=\fontsize{11.6}{13}\selectfont}]
\addplot[tred] coordinates {(1913.2,7621)(1914.5,7628)(1915.8,7613)(1917.0,7621)(1918.3,7603)(1919.6,7621)(1920.9,7583)(1922.1,7608)(1923.4,7603)(1924.7,7608)(1926.0,7588)(1927.3,7613)(1928.5,7603)(1929.8,7621)(1931.1,7571)(1932.4,7645)(1933.6,7621)(1934.9,7645)(1936.2,7658)(1937.5,7683)(1938.7,7645)(1940.0,7628)(1941.3,7670)(1942.6,7658)(1943.9,7653)(1945.1,7683)(1946.4,7707)(1947.7,7737)(1948.6,7683)(1949.9,7670)(1951.1,7663)(1952.4,7670)(1953.7,7663)(1955.0,7670)(1956.2,7683)(1957.5,7670)(1958.8,7688)(1960.1,7678)(1961.4,7663)(1962.6,7653)(1963.9,7596)(1965.2,7645)(1966.5,7670)(1967.7,7663)(1969.0,7670)(1970.3,7678)(1971.6,7707)(1972.8,7737)(1974.1,7707)(1975.4,7658)(1976.7,7688)(1978.0,7702)(1979.2,7695)(1980.5,7707)(1981.8,7702)(1983.1,7712)(1984.3,7720)(1985.6,7732)(1986.9,7707)(1988.2,7683)(1989.5,7707)(1990.7,7770)(1992.0,7752)(1993.3,7745)(1994.6,7745)(1995.8,7670)(1997.1,7737)(1998.4,7770)(1999.7,7732)(2000.9,7707)(2002.2,7737)(2003.5,7745)(2004.8,7732)(2006.1,7757)(2007.3,7770)(2008.6,7762)(2009.9,7745)(2011.2,7782)(2012.4,7807)(2013.7,7826)(2014.4,7819)};
\addplot[tred] coordinates {(1923.9,7281)(1925.2,7306)(1926.5,7316)(1927.5,7311)(1928.5,7415)(1929.4,7311)(1930.3,7273)(1931.3,7348)(1932.4,7311)(1933.3,7390)(1934.5,7335)(1935.8,7348)(1937.1,7360)(1938.4,7316)(1939.6,7335)(1940.9,7355)(1942.2,7380)(1943.5,7390)(1944.8,7385)(1946.0,7415)(1946.9,7422)(1947.9,7459)(1949.0,7410)(1950.2,7380)(1951.5,7355)(1952.8,7373)(1954.1,7390)(1955.4,7348)(1956.6,7390)(1957.9,7405)(1959.2,7380)(1960.5,7405)(1961.7,7335)(1963.0,7385)(1964.3,7323)(1965.6,7385)(1966.8,7298)(1968.1,7390)(1969.4,7360)(1970.7,7397)(1972.0,7422)(1972.8,7447)(1973.7,7459)(1974.5,7514)(1975.0,7360)(1976.0,7397)(1977.3,7422)(1978.6,7415)(1979.9,7410)(1981.1,7405)(1982.4,7430)(1983.7,7422)(1985.0,7415)(1986.3,7385)(1987.5,7348)(1988.8,7390)(1990.1,7405)(1991.4,7397)(1992.6,7385)(1993.9,7415)(1995.2,7390)(1996.5,7405)(1997.8,7422)(1999.0,7435)(2000.3,7385)(2001.6,7440)(2002.9,7459)(2004.1,7422)(2005.4,7410)(2006.7,7397)(2008.0,7435)(2009.2,7454)(2010.5,7397)(2011.8,7422)(2013.1,7447)(2014.4,7472)};
\addplot[tred] coordinates {(1909.0,6703)(1909.6,6604)(1910.7,6654)(1911.9,6728)(1913.2,6753)(1914.5,6703)(1915.8,6691)(1916.7,6616)(1917.7,6715)(1918.8,6765)(1919.8,6785)(1920.9,6852)(1921.8,6753)(1922.7,6790)(1923.7,6696)(1925.0,6765)(1926.2,6703)(1927.5,6790)(1928.8,6877)(1929.8,6740)(1930.7,6666)(1931.6,6802)(1932.6,6777)(1933.9,6815)(1935.2,6765)(1936.4,6820)(1937.7,6790)(1939.0,6753)(1940.3,6839)(1941.6,6839)(1942.8,6864)(1944.1,6914)(1945.4,6926)(1946.7,6901)(1947.9,6939)(1949.2,6951)(1950.5,6877)(1951.8,6914)(1953.1,6839)(1954.3,6909)(1955.6,6834)(1956.9,6919)(1958.2,6939)(1959.4,6926)(1960.7,7001)(1962.0,6914)(1963.3,6889)(1964.5,6951)(1965.8,6939)(1967.1,6963)(1968.4,6951)(1969.7,6963)(1970.9,7013)(1972.2,7075)(1973.5,7107)(1974.5,7137)(1975.4,7013)(1976.7,7050)(1978.0,7058)(1979.2,7075)(1980.5,7058)(1981.8,7112)(1983.1,7117)(1984.3,7107)(1985.6,7087)(1986.9,7063)(1988.2,7100)(1989.5,7162)(1990.7,7182)(1992.0,7149)(1993.3,7125)(1994.6,7162)(1995.8,7187)(1997.1,7149)(1998.4,7132)(1999.7,7174)(2000.9,7187)(2002.2,7162)(2003.5,7149)(2004.8,7125)(2005.4,7063)(2006.4,7199)(2007.3,7162)(2008.6,7187)(2009.9,7142)(2011.2,7199)(2012.4,7211)(2013.7,7266)(2014.4,7261)};
\addplot[tred] coordinates {(1946.9,6572)(1948.2,6586)(1949.2,6554)(1950.5,6537)(1951.8,6529)(1953.3,6487)(1954.3,6517)(1955.6,6529)(1956.9,6591)(1957.9,6572)(1959.2,6567)(1960.5,6621)(1961.7,6591)(1963.0,6547)(1964.3,6591)(1965.6,6604)(1966.8,6636)(1968.1,6616)(1969.4,6678)(1970.7,6703)(1972.0,6740)(1973.2,6790)(1974.5,6815)(1975.8,6802)(1977.1,6770)(1978.3,6802)(1979.6,6777)(1980.9,6839)(1982.2,6869)(1983.4,6864)(1984.7,6859)(1986.0,6839)(1987.3,6802)(1988.6,6839)(1989.8,6889)(1991.1,6914)(1992.4,6889)(1993.7,6901)(1994.9,6919)(1996.2,6889)(1997.5,6939)(1998.8,6926)(2000.1,6894)(2001.3,6914)(2002.6,6939)(2003.9,6951)(2005.2,6889)(2006.4,6963)(2007.7,6976)(2009.0,6988)(2010.3,6993)(2011.2,6968)(2012.1,7025)(2013.1,7001)(2014.1,7038)};
\end{axis}
\begin{axis}[panel, c3, r3, at={(453.5pt,-313.65pt)}, xtick={1880,1920,1960,2000}, xticklabel style={font=\fontsize{11.2}{13}\selectfont}]
\addplot[tnavy] coordinates {(1912.9,7521)(1914.2,7529)(1915.5,7546)(1916.8,7521)(1918.1,7534)(1919.4,7504)(1920.6,7534)(1921.9,7521)(1923.2,7514)(1924.5,7529)(1925.8,7509)(1927.1,7534)(1928.3,7529)(1929.6,7546)(1930.9,7497)(1932.2,7571)(1933.5,7546)(1934.7,7571)(1936.0,7588)(1937.3,7608)(1938.6,7571)(1939.9,7559)(1941.2,7596)(1942.4,7608)(1943.7,7588)(1945.0,7621)(1946.3,7653)(1947.6,7683)(1948.8,7621)(1950.1,7608)(1951.4,7621)(1952.7,7621)(1954.0,7613)(1955.3,7621)(1956.5,7633)(1957.8,7628)(1959.1,7645)(1960.4,7638)(1961.7,7621)(1962.9,7613)(1964.0,7559)(1965.3,7613)(1966.5,7638)(1967.8,7633)(1969.1,7653)(1970.4,7653)(1971.7,7688)(1972.9,7720)(1974.2,7688)(1975.5,7645)(1976.8,7678)(1978.1,7688)(1979.4,7688)(1980.6,7695)(1981.9,7695)(1983.2,7702)(1984.5,7707)(1985.8,7737)(1987.1,7720)(1988.3,7683)(1989.6,7712)(1990.9,7762)(1992.2,7745)(1993.5,7732)(1994.7,7737)(1996.0,7663)(1997.3,7732)(1998.6,7777)(1999.9,7737)(2001.2,7720)(2002.4,7745)(2003.7,7752)(2005.0,7732)(2006.3,7762)(2007.6,7777)(2008.8,7770)(2010.1,7757)(2011.4,7807)(2012.7,7819)(2014.0,7844)(2014.9,7851)};
\addplot[tnavy] coordinates {(1923.8,7182)(1925.1,7211)(1926.4,7224)(1927.7,7216)(1928.7,7316)(1929.6,7211)(1930.5,7187)(1931.5,7261)(1932.6,7224)(1933.5,7298)(1934.7,7249)(1936.0,7266)(1937.3,7261)(1938.6,7236)(1939.9,7261)(1941.2,7298)(1942.4,7316)(1943.7,7335)(1945.0,7330)(1946.3,7360)(1947.3,7373)(1948.2,7405)(1949.2,7355)(1950.5,7330)(1951.8,7316)(1953.1,7335)(1954.4,7355)(1955.6,7316)(1956.9,7360)(1958.2,7380)(1959.5,7348)(1960.8,7385)(1962.1,7316)(1963.3,7365)(1964.6,7311)(1965.9,7365)(1967.2,7291)(1968.5,7373)(1969.7,7360)(1971.0,7397)(1972.3,7422)(1973.6,7459)(1974.6,7546)(1975.4,7348)(1976.4,7397)(1977.7,7415)(1979.0,7422)(1980.3,7430)(1981.5,7405)(1982.8,7447)(1984.1,7459)(1985.4,7435)(1986.7,7405)(1987.9,7385)(1989.2,7447)(1990.5,7464)(1991.8,7459)(1993.1,7454)(1994.4,7435)(1995.6,7472)(1996.9,7459)(1998.2,7497)(1999.5,7509)(2000.8,7459)(2002.1,7534)(2003.3,7546)(2004.6,7529)(2005.9,7459)(2007.2,7521)(2008.5,7546)(2009.7,7571)(2011.0,7509)(2012.3,7534)(2013.6,7559)(2014.9,7583)};
\addplot[tnavy] coordinates {(1909.1,6591)(1909.7,6517)(1910.8,6567)(1912.1,6629)(1913.3,6666)(1914.6,6641)(1915.9,6616)(1916.8,6547)(1917.8,6629)(1919.0,6678)(1920.0,6703)(1921.0,6790)(1921.9,6678)(1922.8,6715)(1923.8,6641)(1925.1,6678)(1926.4,6641)(1927.7,6715)(1929.0,6839)(1930.0,6703)(1930.9,6636)(1931.8,6740)(1932.8,6715)(1934.1,6765)(1935.4,6715)(1936.7,6765)(1937.9,6753)(1939.2,6740)(1940.5,6834)(1941.8,6852)(1943.1,6889)(1944.4,6934)(1945.6,6968)(1946.9,6963)(1948.2,7001)(1949.5,6963)(1950.8,6926)(1952.1,6939)(1953.3,6889)(1954.6,6951)(1955.9,6889)(1957.2,6988)(1958.5,7013)(1959.7,7013)(1961.0,7075)(1962.3,6993)(1963.6,6963)(1964.9,7038)(1966.2,7025)(1967.4,7075)(1968.7,7063)(1970.0,7100)(1971.3,7162)(1972.6,7211)(1973.8,7199)(1974.9,7286)(1975.8,7075)(1977.1,7137)(1978.3,7174)(1979.6,7182)(1980.9,7211)(1982.2,7286)(1983.5,7266)(1984.7,7249)(1986.0,7224)(1987.3,7199)(1988.6,7266)(1989.9,7348)(1991.2,7360)(1992.4,7335)(1993.7,7311)(1995.0,7373)(1996.3,7348)(1997.6,7405)(1998.8,7335)(2000.1,7385)(2001.4,7410)(2002.7,7348)(2004.0,7397)(2005.3,7435)(2005.9,7311)(2006.9,7435)(2007.8,7459)(2009.1,7435)(2010.4,7385)(2011.7,7472)(2012.9,7497)(2014.2,7521)(2014.9,7546)};
\addplot[tnavy] coordinates {(1946.9,6368)(1948.2,6388)(1949.2,6343)(1950.5,6348)(1951.8,6338)(1953.1,6306)(1954.4,6348)(1955.6,6343)(1956.9,6418)(1957.8,6398)(1959.1,6393)(1960.4,6448)(1961.7,6418)(1962.9,6393)(1964.2,6443)(1965.5,6462)(1966.8,6443)(1967.7,6505)(1969.0,6537)(1970.3,6572)(1971.5,6616)(1972.8,6666)(1974.1,6703)(1975.4,6678)(1976.7,6703)(1977.9,6666)(1979.2,6703)(1980.5,6715)(1981.8,6790)(1983.1,6795)(1984.4,6790)(1985.6,6777)(1986.9,6760)(1988.2,6740)(1989.5,6795)(1990.8,6864)(1992.1,6844)(1993.3,6852)(1994.6,6869)(1995.9,6844)(1997.2,6889)(1998.5,6869)(1999.7,6864)(2001.0,6914)(2002.3,6901)(2003.6,6926)(2004.9,6951)(2006.2,6894)(2007.4,6963)(2008.7,6993)(2010.0,7013)(2011.0,7063)(2012.3,7075)(2013.6,7050)(2014.9,7087)};
\end{axis}
% ---------------- Text (pixel coordinates) ----------------
\begin{scope}[x=0.5pt, y=-0.5pt]
\fill[tealbar, rounded corners=1pt] (0,628) rectangle (5,949);
\tikzset{lab/.style={inner sep=0pt, font=\fontsize{8}{9.6}\selectfont},
  rms/.style={fill=cream, inner xsep=3.5pt, inner ysep=0.8pt, font=\fontsize{8}{9.6}\selectfont},
  rmsv/.style={fill=cream, inner xsep=2.5pt, inner ysep=2pt, font=\fontsize{8}{9.6}\selectfont},
  ttl/.style={inner sep=0pt, font=\fontsize{11.9}{14}\selectfont}}
\node[ttl] at (307,54) {Tide gauge records};
\node[ttl] at (690,18) {GIA, Geoid corrected};
\node[ttl] at (701,54) {Tide gauge records};
\node[ttl] at (1083,18) {GPS, Geoid corrected};
\node[ttl] at (1095,54) {Tide gauge records};
\node[rotate=90, inner sep=0pt, font=\fontsize{11.3}{13}\selectfont] at (24,200) {Monthly MSL (mm)};
\node[rotate=90, inner sep=0pt, font=\fontsize{11.3}{13}\selectfont] at (24,474) {Monthly MSL (mm)};
\node[rotate=90, inner sep=0pt, font=\fontsize{11.3}{13}\selectfont] at (24,748) {Monthly MSL (mm)};
\node[anchor=base, inner sep=0pt, font=\fontsize{10.4}{12}\selectfont] at (296,938) {Year};
\node[anchor=base, inner sep=0pt, font=\fontsize{13}{15}\selectfont] at (686,945) {Year};
\node[anchor=base, inner sep=0pt, font=\fontsize{13}{15}\selectfont] at (1085,945) {Year};
\node[lab] at (212,105) {Stavanger [0.35mm/yr]};
\node[lab] at (212,148) {Kobenhagen [0.56mm/yr]};
\node[lab] at (184,239) {Nedre Gavle};
\node[lab] at (182,257) {[Þ6.04mm/yr]};
\node[rms] at (443,290) {RMS};
\node[rmsv] at (437,307) {3.7mm/yr};
\node[lab] at (570,105) {0.94mm/yr};
\node[lab] at (559,161) {0.62mm/yr};
\node[lab] at (559,233) {0.84mm/yr};
\node[rms] at (837,290) {RMS};
\node[rmsv] at (822,307) {0.16 mm/yr};
\node[lab] at (953,112) {2.36mm/yr};
\node[lab] at (961,170) {1.64 mm/yr};
\node[lab] at (964,238) {2.29mm/yr};
\node[rms] at (1232,290) {RMS};
\node[rmsv] at (1217,307) {0.38 mm/yr};
\node[lab] at (212,392) {Seattle\enspace[2.0 mm/yr]};
\node[lab] at (227,451) {Victoria [0.74mm/yr]};
\node[lab] at (184,507) {Neah Bay};
\node[lab] at (184,525) {[ Þ1.80 mm/yr]};
\node[rms] at (443,565) {RMS};
\node[rmsv] at (436,581) {1.9mm/yr};
\node[lab] at (560,392) {1.16mm/yr};
\node[lab] at (560,452) {0.21mm/yr};
\node[lab] at (568,519) {Þ2.96 mm/yr};
\node[rms] at (837,565) {RMS};
\node[rmsv] at (822,581) {2.16 mm/yr};
\node[lab] at (958,391) {1.15 mm/yr};
\node[lab] at (957,451) {1.36 mm/yr};
\node[lab] at (958,519) {1.85 mm/yr};
\node[rms] at (1231,565) {RMS};
\node[rmsv] at (1217,581) {0.35 mm/yr};
\node[lab] at (205,653) {Key West\enspace\,[2.4 mm/yr]};
\node[lab] at (207,695) {Pensacola [2.37mm/yr]};
\node[lab] at (208,768) {Galveston\enspace[ 6.33 mm/yr]};
\node[lab] at (207,852) {Grand Isle [ 8.84 mm/yr]};
\node[rms] at (443,840) {RMS};
\node[rmsv] at (436,855) {3.4mm/yr};
\node[lab] at (565,659) {1.58\enspace mm/yr};
\node[lab] at (562,713) {1.3 mm/yr};
\node[lab] at (565,767) {5.27\enspace mm/yr};
\node[lab] at (633,840) {8.5 mm/yr};
\node[rms] at (837,840) {RMS};
\node[rmsv] at (827,855) {3.4 mm/yr};
\node[lab] at (961,664) {1.71 mm/yr};
\node[lab] at (961,725) {1.20 mm/yr};
\node[lab] at (961,786) {2.46 mm/yr};
\node[lab] at (1012,847) {2.45 mm/yr};
\node[rms] at (1231,840) {RMS};
\node[rmsv] at (1217,855) {0.60 mm/yr};
\end{scope}
\end{tikzpicture}
\end{document}
